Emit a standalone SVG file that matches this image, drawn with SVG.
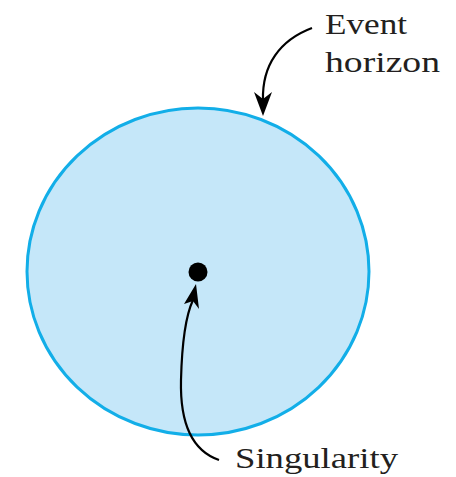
<svg xmlns="http://www.w3.org/2000/svg" width="456" height="477" viewBox="0 0 456 477">
<style>
.lbl{font-family:"Liberation Serif","Times New Roman",serif;font-size:30px;fill:#231f20}
.conn{fill:none;stroke:#000;stroke-width:2.2}
</style>
<defs>
<marker id="ah" viewBox="0 0 10 10" refX="9" refY="5" markerWidth="8" markerHeight="8" markerUnits="userSpaceOnUse" orient="auto">
<path d="M0,0 L10,5 L0,10 L3,5 Z" fill="#000"/>
</marker>
</defs>
<g id="horizon">
<ellipse cx="198" cy="271.5" rx="171" ry="163.5" fill="#c5e7f9" stroke="#12aee8" stroke-width="3"/>
</g>
<g id="singularity">
<circle cx="198" cy="272" r="9.5" fill="#000"/>
</g>
<g id="connectors">
<path class="conn" d="M312,28 C280,40 262,65 263,100"/>
<path d="M254,92 L263,116 L272,92 L263,99 Z" fill="#000"/>
<path class="conn" d="M219,460 C190,450 180,420 181,380 C182,340 186,315 193,300"/>
<path d="M184,304 L196,284 L199,309 L193,301 Z" fill="#000"/>
</g>
<g id="labels">
<text class="lbl" x="325" y="34" textLength="82" lengthAdjust="spacingAndGlyphs">Event</text>
<text class="lbl" x="325" y="72" textLength="115" lengthAdjust="spacingAndGlyphs">horizon</text>
<text class="lbl" x="235" y="468" textLength="163" lengthAdjust="spacingAndGlyphs">Singularity</text>
</g>
</svg>
